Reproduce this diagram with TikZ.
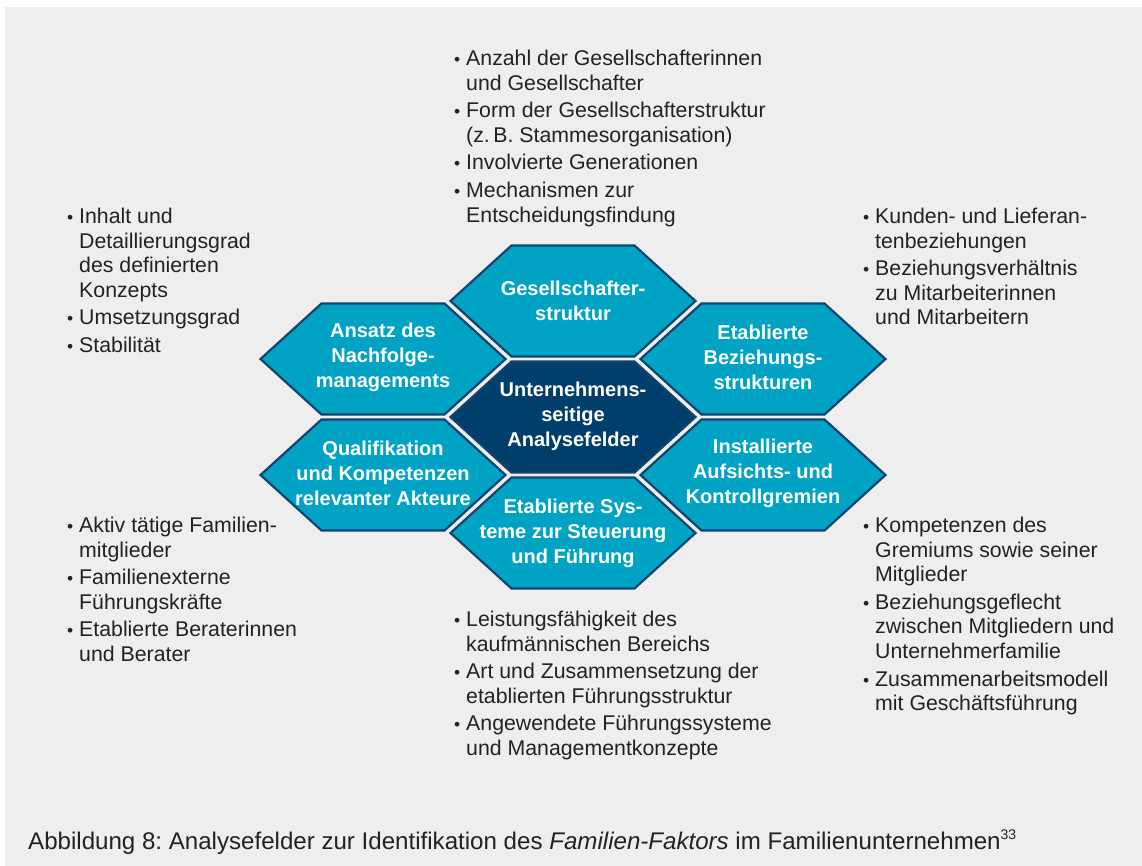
\documentclass[tikz,border=0pt]{standalone}
\usepackage{fontspec}
\setmainfont{Liberation Sans}
\definecolor{bgc}{HTML}{EEEEEE}
\definecolor{hexteal}{HTML}{00A3C4}
\definecolor{hexnavy}{HTML}{003E6B}
\definecolor{hexline}{HTML}{0F4470}
\definecolor{txt}{HTML}{222222}
\newcommand\li{\makebox[12pt][l]{\fontsize{17.5}{17.5}\selectfont\textbullet}}
\frenchspacing
\begin{document}
\begin{tikzpicture}[x=1pt,y=-1pt,
  hexa/.pic={\path[pic actions] (-122.5,0) -- (-61.5,-55.5) -- (61.5,-55.5) -- (122.5,0) -- (61.5,55.5) -- (-61.5,55.5) -- cycle;},
  hexcell/.style={fill=hexteal, draw=hexline, line width=2.2pt, line join=miter},
  hexcore/.style={fill=hexnavy, draw=hexline, line width=2.2pt, line join=miter},
  hexlabel/.style={text=white, font=\bfseries\fontsize{20}{25}\selectfont, align=center, inner sep=0pt},
  listtext/.style={anchor=north west, inner sep=0pt, text=txt, font=\fontsize{21.3}{24.6}\selectfont},
]
\useasboundingbox (0,0) rectangle (1142,866);
\fill[white] (0,0) rectangle (1142,866);
\fill[bgc] (5,7) rectangle (1142,866);

% hexagons
\pic[hexcell] at (573,301) {hexa};
\pic[hexcell] at (383,359) {hexa};
\pic[hexcell] at (763,359) {hexa};
\pic[hexcore] at (573,417) {hexa};
\pic[hexcell] at (383,475) {hexa};
\pic[hexcell] at (763,475) {hexa};
\pic[hexcell] at (573,533) {hexa};

\node[hexlabel] (gs) at (573,301) {Gesellschafter-\\struktur};
\node[hexlabel] (nf) at (383,357) {Ansatz des\\Nachfolge-\\managements};
\node[hexlabel] (bz) at (763,357) {Etablierte\\Beziehungs-\\strukturen};
\node[hexlabel] (ua) at (573,416) {Unternehmens-\\seitige\\Analysefelder};
\node[hexlabel] (qk) at (383,473) {Qualifikation\\und Kompetenzen\\relevanter Akteure};
\node[hexlabel] (ak) at (763,473) {Installierte\\Aufsichts- und\\Kontrollgremien};
\node[hexlabel] (sf) at (573,533) {Etablierte Sys-\\teme zur Steuerung\\und Führung};

% lists
\node[listtext] (gslist) at (454,48) {\begin{tabular}{@{}l@{}l@{}}
\li & Anzahl der Gesellschafterinnen\\
 & und Gesellschafter\\[3pt]
\li & Form der Gesellschafterstruktur\\
 & (z.\,B. Stammesorganisation)\\[3pt]
\li & Involvierte Generationen\\[3pt]
\li & Mechanismen zur\\
 & Entscheidungsfindung
\end{tabular}};

\node[listtext] (nflist) at (67,206) {\begin{tabular}{@{}l@{}l@{}}
\li & Inhalt und\\
 & Detaillierungsgrad\\
 & des definierten\\
 & Konzepts\\[3pt]
\li & Umsetzungsgrad\\[3pt]
\li & Stabilität
\end{tabular}};

\node[listtext] (bzlist) at (863,206) {\begin{tabular}{@{}l@{}l@{}}
\li & Kunden- und Lieferan-\\
 & tenbeziehungen\\[3pt]
\li & Beziehungsverhältnis\\
 & zu Mitarbeiterinnen\\
 & und Mitarbeitern
\end{tabular}};

\node[listtext] (qklist) at (67,515) {\begin{tabular}{@{}l@{}l@{}}
\li & Aktiv tätige Familien-\\
 & mitglieder\\[3pt]
\li & Familienexterne\\
 & Führungskräfte\\[3pt]
\li & Etablierte Beraterinnen\\
 & und Berater
\end{tabular}};

\node[listtext] (aklist) at (863,515) {\begin{tabular}{@{}l@{}l@{}}
\li & Kompetenzen des\\
 & Gremiums sowie seiner\\
 & Mitglieder\\[3pt]
\li & Beziehungsgeflecht\\
 & zwischen Mitgliedern und\\
 & Unternehmerfamilie\\[3pt]
\li & Zusammenarbeitsmodell\\
 & mit Geschäftsführung
\end{tabular}};

\node[listtext] (sflist) at (454,609) {\begin{tabular}{@{}l@{}l@{}}
\li & Leistungsfähigkeit des\\
 & kaufmännischen Bereichs\\[3pt]
\li & Art und Zusammensetzung der\\
 & etablierten Führungsstruktur\\[3pt]
\li & Angewendete Führungssysteme\\
 & und Managementkonzepte
\end{tabular}};

% caption
\node[anchor=base west, inner sep=0pt, text=txt, font=\fontsize{24.1}{28}\selectfont] (cap) at (28,849)
  {Abbildung 8: Analysefelder zur Identifikation des \textit{Familien-Faktors} im Familienunternehmen\textsuperscript{\fontsize{14}{14}\selectfont 33}};
\end{tikzpicture}
\end{document}
